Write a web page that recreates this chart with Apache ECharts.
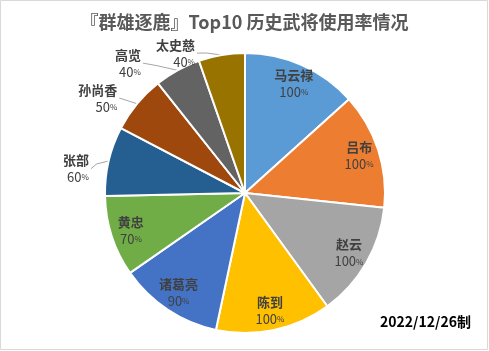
<!DOCTYPE html>
<html lang="zh">
<head>
  <meta charset="UTF-8">
  <title>群雄逐鹿 武将使用率</title>
  <script src="https://cdn.jsdelivr.net/npm/echarts@6/dist/echarts.min.js"></script>
  <style>
    html, body { margin: 0; padding: 0; background: #fff; }
    #main { width: 489px; height: 351px; }
  </style>
</head>
<body>
<div id="main"></div>
<script>
  // 武将名字 / 使用率(%)
  const names = ['马云禄', '吕布', '赵云', '陈到', '诸葛亮', '黄忠', '张部', '孙尚香', '高览', '太史慈'];
  const rates = [100, 100, 100, 100, 90, 70, 60, 50, 40, 40];
  const colors = ['#5B9BD5', '#ED7D31', '#A5A5A5', '#FFC000', '#4472C4', '#70AD47', '#255E91', '#9E480E', '#636363', '#997300'];
  // 标签放在外面的几个小扇区，及其微调 [dx, dy]
  const outsideNames = ['张部', '孙尚香', '高览', '太史慈'];
  const labelShift = { '张部': [-2, 10], '孙尚香': [5, -11], '高览': [0, -14], '太史慈': [-12, 8] };

  const fontFamily = '"Noto Sans CJK SC", "Noto Sans", sans-serif';
  const rich = {
    n: { fontSize: 13, color: '#404040', fontWeight: 'bold', lineHeight: 17, fontFamily: fontFamily },
    v: { fontSize: 13, color: '#404040', lineHeight: 17, fontFamily: fontFamily },
    s: { fontSize: 8, color: '#404040', lineHeight: 17, fontFamily: fontFamily }
  };
  const fmt = p => '{n|' + p.name + '}\n{v|' + p.value + '}{s|%}';

  const center = [245, 193];
  const radius = 140;

  //扇区中线与外圆的交点，引导线从这里出发
  const total = rates.reduce((a, b) => a + b, 0);
  function edgePoint(idx) {
    let before = 0;
    for (let i = 0; i < idx; i++) before += rates[i];
    const a = (before + rates[idx] / 2) / total * Math.PI * 2;
    return [center[0] + Math.sin(a) * radius, center[1] - Math.cos(a) * radius];
  }

  let option = {
    backgroundColor: '#fff',
    animation: false,
    title: {
      text: '『群雄逐鹿』Top10 历史武将使用率情况',
      left: 'center',
      top: 8,
      textStyle: { fontSize: 18, fontWeight: 'bold', color: '#595959', fontFamily: fontFamily }
    },
    graphic: [
      {
        type: 'rect',
        shape: { x: 0.5, y: 0.5, width: 487, height: 349 },
        style: { fill: 'none', stroke: '#d9d9d9', lineWidth: 1 },
        silent: true
      },
      {
        type: 'text',
        right: 18,
        top: 315,
        style: { text: '2022/12/26制', fontSize: 14, fontWeight: 'bold', fill: '#000', fontFamily: fontFamily }
      }
    ],
    series: [
      {
        //真实扇区，只显示外部标签
        type: 'pie',
        center: center,
        radius: radius,
        startAngle: 90,
        silent: true,
        itemStyle: { borderColor: '#fff', borderWidth: 2 },
        data: names.map((n, i) => {
          const out = outsideNames.includes(n);
          return {
            name: n,
            value: rates[i],
            itemStyle: { color: colors[i] },
            label: { show: out },
            labelLine: { show: out }
          };
        }),
        label: {
          position: 'outside',
          formatter: fmt,
          rich: rich
        },
        labelLine: {
          length: 10,
          length2: 8,
          lineStyle: { color: '#a6a6a6', width: 1 }
        },
        labelLayout: p => {
          const s = labelShift[names[p.dataIndex]];
          if (!s) return {};
          //引导线跟着标签一起挪：从扇区边缘连到标签右侧
          const r = p.labelRect;
          const start = edgePoint(p.dataIndex);
          const end = [r.x + r.width + s[0] + 2, r.y + r.height / 2 + s[1]];
          const mid = [(start[0] + end[0]) / 2 - 3, (start[1] + end[1]) / 2 - 1];
          return { dx: s[0], dy: s[1], labelLinePoints: [start, mid, end] };
        }
      },
      {
        //透明环，用于把内部标签放得更靠外
        type: 'pie',
        center: center,
        radius: [94, radius],
        startAngle: 90,
        silent: true,
        itemStyle: { color: 'rgba(0,0,0,0)' },
        data: names.map((n, i) => ({
          name: n,
          value: rates[i],
          label: { show: !outsideNames.includes(n) }
        })),
        label: {
          position: 'inside',
          formatter: fmt,
          rich: rich
        },
        labelLine: { show: false }
      }
    ]
  };

  let myChart = echarts.init(document.getElementById('main'));
  myChart.setOption(option);
</script>
</body>
</html>
